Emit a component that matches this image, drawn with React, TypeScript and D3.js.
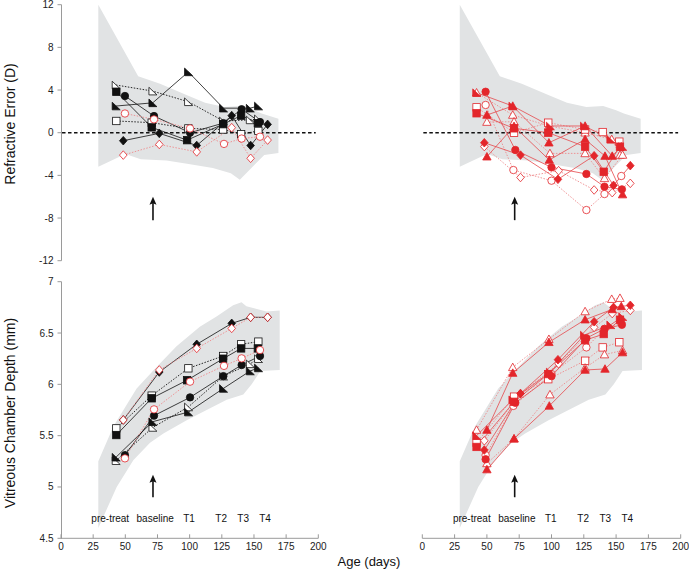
import React from "react";
import * as d3 from "d3";

const W = 689;
const H = 569;

// ---------- ticks & labels ----------
const ageTicks = [0, 25, 50, 75, 100, 125, 150, 175, 200];
const refTicks = [12, 8, 4, 0, -4, -8, -12];
const vcdTicks = [4.5, 5, 5.5, 6, 6.5, 7];
const phaseLabels = ["pre-treat", "baseline", "T1", "T2", "T3", "T4"];
const phaseAges = [38.3, 73.2, 99.5, 124.5, 141.6, 158.6];
const arrowAge = 71.5;
const arrowRef = [-8.2, -6.0];
const arrowVcd = [4.9, 5.12];

// ---------- normal range bands ----------
const refBandUpperAge = [29, 60, 77, 98, 112, 127, 140, 150, 156, 169];
const refBandUpper = [12, 5.3, 4.6, 3.5, 2.8, 2.4, 2.5, 2.1, 1.8, 1.3];
const refBandLowerAge = [29, 50, 62, 82, 98, 118, 132, 139, 148, 158, 169];
const refBandLower = [-3.2, -2.0, -2.5, -2.6, -2.9, -3.3, -3.8, -4.4, -3.3, -2.1, -1.9];

const vcdBandUpperAge = [29, 40.7, 58.8, 74.3, 89.8, 107.9, 120.9, 133.8, 140.3, 144.1, 159.7, 170];
const vcdBandUpper = [5.25, 5.59, 5.96, 6.17, 6.37, 6.56, 6.66, 6.77, 6.8, 6.76, 6.71, 6.72];
const vcdBandLowerAge = [29, 43.3, 56.2, 69.2, 79.6, 97.7, 113.2, 128.8, 141.7, 148.2, 155, 170];
const vcdBandLower = [4.6, 5.0, 5.26, 5.43, 5.52, 5.65, 5.75, 5.85, 5.9, 6.0, 6.13, 6.14];

// ---------- left panels (black / red-open) ----------
const lSqFAge = [43, 70.5, 98, 126, 140, 153];
const lSqFRef = [3.84, 0.5, -0.7, 0.8, 1.6, 0.9];
const lSqFVcd = [5.506, 5.864, 6.04, 6.25, 6.35, 6.35];

const lSqOAge = [43, 70.5, 99, 126, 140, 153.4];
const lSqORef = [1.1, 0.94, 0.4, 0.3, -0.14, 0.17];
const lSqOVcd = [5.571, 5.89, 6.156, 6.276, 6.39, 6.416];

const lCiFAge = [49.7, 72.3, 100.3, 126.2, 140.4, 154.7];
const lCiFRef = [3.44, 1.56, 0.0, 0.9, 2.2, 1.0];
const lCiFVcd = [5.31, 5.695, 5.873, 6.08, 6.188, 6.276];

const lCiOAge = [49.7, 72.3, 100.3, 126.7, 140.4, 154.7];
const lCiORef = [1.8, 1.25, 0.4, -1.05, -0.55, -0.375];
const lCiOVcd = [5.279, 5.756, 6.026, 6.18, 6.253, 6.334];

const lDiFAge = [48.4, 76.4, 105.5, 132.7, 147.4, 160.6];
const lDiFRef = [-0.75, -0.06, -1.2, 1.6, -1.2, 0.78];
const lDiFVcd = [5.653, 6.12, 6.39, 6.594, 6.653, 6.653];

const lDiOAge = [48.4, 76.4, 105.5, 132.7, 147.4, 160.6];
const lDiORef = [-2.1, -1.1, -1.8, 0.47, -2.4, -0.69];
const lDiOVcd = [5.653, 6.14, 6.35, 6.545, 6.653, 6.653];

const lTrFAge = [42.75, 71.3, 99, 126.2, 147, 153.4];
const lTrFRef = [2.5, 2.8, 5.7, 2.3, 2.3, 2.5];
const lTrFVcd = [5.29, 5.636, 5.73, 5.96, 6.13, 6.16];

const lTrOAge = [42.75, 71.3, 99, 126.2, 147, 153.4];
const lTrORef = [4.47, 3.9, 2.9, 1.1, 1.2, 1.3];
const lTrOVcd = [5.256, 5.58, 5.78, 6.08, 6.2, 6.25];

// ---------- right panels (red) ----------
const rTuOAge = [42, 70, 98, 126, 146.6, 153];
const rTuORef = [3.75, 1.66, 0.63, 0.0, -0.62, -2.09];
const rTuOVcd = [5.555, 6.166, 6.44, 6.71, 6.83, 6.84];

const rTuFAge = [50, 70, 98, 126, 147, 154];
const rTuFRef = [1.66, 2.5, -0.94, 0.63, -2.19, -1.31];
const rTuFVcd = [5.555, 6.11, 6.41, 6.63, 6.73, 6.76];

const rDiFAge = [48, 76, 105, 133, 148, 161];
const rDiFRef = [-0.94, -2.1, -4.37, -2.16, -4.94, -3.09];
const rDiFVcd = [5.36, 5.91, 6.24, 6.61, 6.75, 6.77];

const rDiOAge = [48, 76, 105.5, 133, 147, 161];
const rDiORef = [-1.3, -4.2, -3.56, -5.37, -5.62, -4.75];
const rDiOVcd = [5.45, 5.91, 6.2, 6.555, 6.69, 6.72];

const rCiFAge = [49, 72, 100, 127, 141, 154.5];
const rCiFRef = [3.84, -1.62, -3.25, -3.87, -5.06, -5.31];
const rCiFVcd = [5.27, 5.82, 6.08, 6.45, 6.54, 6.58];

const rCiOAge = [49, 70.5, 100, 127, 141, 154];
const rCiORef = [2.6, -3.5, -4.5, -7.25, -5.75, -4.06];
const rCiOVcd = [5.31, 5.79, 6.1, 6.36, 6.54, 6.6];

const rSqFAge = [42, 71, 97.5, 126, 140.4, 153];
const rSqFRef = [1.82, 0.41, 0.0, -1.31, -3.66, -1.31];
const rSqFVcd = [5.39, 5.83, 6.1, 6.43, 6.49, 6.63];

const rSqOAge = [42, 71, 97.5, 126, 139.6, 152.5];
const rSqORef = [2.38, 0.0, 0.94, 0.3, 0.06, -0.84];
const rSqOVcd = [5.43, 5.88, 6.05, 6.23, 6.36, 6.41];

const rRtFAge = [42, 70, 99, 125.4, 145.8, 155];
const rRtFRef = [3.75, 2.5, 0.63, 0.63, -0.62, -1.3];
const rRtFVcd = [5.5, 5.85, 6.12, 6.48, 6.58, 6.66];

const rTlOAge = [50, 71, 98.8, 126, 141, 155];
const rTlORef = [1.0, 1.03, -1.94, -1.94, -4.28, -2.09];
const rTlOVcd = [5.23, 5.47, 5.9, 6.16, 6.29, 6.33];

const rTlFAge = [50, 71, 98.3, 126, 141.4, 155];
const rTlFRef = [-2.25, 0.6, -2.56, -0.62, -2.19, -5.8];
const rTlFVcd = [5.17, 5.47, 5.79, 6.14, 6.15, 6.31];

// ---------- styling ----------
const BLACK = "#111";
const RED = "#e3262b";
const RED_LINE = "#e6474b";
const RED_DOT = "#ee8a8c";
const BAND = "#e1e3e4";
const AXIS = "#9a9a9a";
const FONT = "'Liberation Sans', Arial, Helvetica, sans-serif";

type Series = {
  age: number[];
  ref: number[];
  vcd: number[];
  shape: "square" | "circle" | "diamond" | "rtri" | "tri";
  filled: boolean;
  color: string;
  line: string;
  dashed: boolean;
};

const leftSeries: Series[] = [
  { age: lSqOAge, ref: lSqORef, vcd: lSqOVcd, shape: "square", filled: false, color: BLACK, line: BLACK, dashed: true },
  { age: lTrOAge, ref: lTrORef, vcd: lTrOVcd, shape: "rtri", filled: false, color: BLACK, line: BLACK, dashed: true },
  { age: lSqFAge, ref: lSqFRef, vcd: lSqFVcd, shape: "square", filled: true, color: BLACK, line: BLACK, dashed: false },
  { age: lCiFAge, ref: lCiFRef, vcd: lCiFVcd, shape: "circle", filled: true, color: BLACK, line: BLACK, dashed: false },
  { age: lDiFAge, ref: lDiFRef, vcd: lDiFVcd, shape: "diamond", filled: true, color: BLACK, line: BLACK, dashed: false },
  { age: lTrFAge, ref: lTrFRef, vcd: lTrFVcd, shape: "rtri", filled: true, color: BLACK, line: BLACK, dashed: false },
  { age: lDiOAge, ref: lDiORef, vcd: lDiOVcd, shape: "diamond", filled: false, color: RED, line: RED_DOT, dashed: true },
  { age: lCiOAge, ref: lCiORef, vcd: lCiOVcd, shape: "circle", filled: false, color: RED, line: RED_DOT, dashed: true },
];

const rightSeries: Series[] = [
  { age: rTuOAge, ref: rTuORef, vcd: rTuOVcd, shape: "tri", filled: false, color: RED, line: RED_DOT, dashed: true },
  { age: rDiOAge, ref: rDiORef, vcd: rDiOVcd, shape: "diamond", filled: false, color: RED, line: RED_DOT, dashed: true },
  { age: rCiOAge, ref: rCiORef, vcd: rCiOVcd, shape: "circle", filled: false, color: RED, line: RED_DOT, dashed: true },
  { age: rSqOAge, ref: rSqORef, vcd: rSqOVcd, shape: "square", filled: false, color: RED, line: RED_DOT, dashed: true },
  { age: rTlOAge, ref: rTlORef, vcd: rTlOVcd, shape: "tri", filled: false, color: RED, line: RED_DOT, dashed: true },
  { age: rTuFAge, ref: rTuFRef, vcd: rTuFVcd, shape: "tri", filled: true, color: RED, line: RED_LINE, dashed: false },
  { age: rDiFAge, ref: rDiFRef, vcd: rDiFVcd, shape: "diamond", filled: true, color: RED, line: RED_LINE, dashed: false },
  { age: rCiFAge, ref: rCiFRef, vcd: rCiFVcd, shape: "circle", filled: true, color: RED, line: RED_LINE, dashed: false },
  { age: rSqFAge, ref: rSqFRef, vcd: rSqFVcd, shape: "square", filled: true, color: RED, line: RED_LINE, dashed: false },
  { age: rRtFAge, ref: rRtFRef, vcd: rRtFVcd, shape: "rtri", filled: true, color: RED, line: RED_LINE, dashed: false },
  { age: rTlFAge, ref: rTlFRef, vcd: rTlFVcd, shape: "tri", filled: true, color: RED, line: RED_LINE, dashed: false },
];

// ---------- scales ----------
const leftX = d3.scaleLinear().domain([0, 200]).range([61, 318.3]);
const rightX = d3.scaleLinear().domain([0, 200]).range([422.3, 680.7]);
const refY = d3.scaleLinear().domain([-12, 12]).range([260.7, 4.7]);
const vcdY = d3.scaleLinear().domain([4.5, 7]).range([538.3, 281.7]);

function bandPath(
  x: d3.ScaleLinear<number, number>,
  y: d3.ScaleLinear<number, number>,
  ua: number[], uv: number[], la: number[], lv: number[]
) {
  const pts: [number, number][] = [];
  ua.forEach((a, i) => pts.push([x(a), y(uv[i])]));
  for (let i = la.length - 1; i >= 0; i--) pts.push([x(la[i]), y(lv[i])]);
  return (d3.line()(pts) || "") + "Z";
}

function Marker({ shape, cx, cy, filled, color }: { shape: string; cx: number; cy: number; filled: boolean; color: string }) {
  const fill = filled ? color : "#fff";
  const sw = 0.8;
  if (shape === "square") return <rect x={cx - 3.7} y={cy - 3.7} width={7.4} height={7.4} fill={fill} stroke={color} strokeWidth={sw} />;
  if (shape === "circle") return <circle cx={cx} cy={cy} r={3.7} fill={fill} stroke={color} strokeWidth={sw} />;
  if (shape === "diamond")
    return <path d={`M${cx},${cy - 4.3}L${cx + 3.8},${cy}L${cx},${cy + 4.3}L${cx - 3.8},${cy}Z`} fill={fill} stroke={color} strokeWidth={sw} />;
  if (shape === "rtri")
    return <path d={`M${cx - 3.8},${cy - 3.8}L${cx - 3.8},${cy + 3.8}L${cx + 4.2},${cy + 3.8}Z`} fill={fill} stroke={color} strokeWidth={sw} />;
  return <path d={`M${cx},${cy - 4.2}L${cx + 4.2},${cy + 3.3}L${cx - 4.2},${cy + 3.3}Z`} fill={fill} stroke={color} strokeWidth={sw} />;
}

function SeriesGroup({ series, x, y, key2 }: { series: Series[]; x: d3.ScaleLinear<number, number>; y: d3.ScaleLinear<number, number>; key2: "ref" | "vcd" }) {
  const lineGen = d3.line<[number, number]>().x((d) => x(d[0])).y((d) => y(d[1]));
  return (
    <g>
      {series.map((s, i) => (
        <path
          key={"l" + i}
          d={lineGen(s.age.map((a, j) => [a, s[key2][j]] as [number, number])) || ""}
          fill="none"
          stroke={s.line}
          strokeWidth={s.dashed ? 0.9 : 0.8}
          strokeDasharray={s.dashed ? "1.5,1.5" : undefined}
        />
      ))}
      {series.map((s, i) => (
        <g key={"m" + i}>
          {s.age.map((a, j) => (
            <Marker key={j} shape={s.shape} cx={x(a)} cy={y(s[key2][j])} filled={s.filled} color={s.color} />
          ))}
        </g>
      ))}
    </g>
  );
}

function Arrow({ x, y1, y2 }: { x: number; y1: number; y2: number }) {
  return (
    <g>
      <line x1={x} x2={x} y1={y1} y2={y2 + 6} stroke={BLACK} strokeWidth={1.6} />
      <path d={`M${x},${y2}L${x + 3.5},${y2 + 8}L${x},${y2 + 6.5}L${x - 3.5},${y2 + 8}Z`} fill={BLACK} />
    </g>
  );
}

function YAxis({ y, ticks, x0 }: { y: d3.ScaleLinear<number, number>; ticks: number[]; x0: number }) {
  const [d0, d1] = y.domain();
  return (
    <g>
      <line x1={x0} x2={x0} y1={y(d0)} y2={y(d1)} stroke={AXIS} strokeWidth={1} />
      {ticks.map((t) => (
        <g key={t}>
          <line x1={x0 - 4} x2={x0} y1={y(t)} y2={y(t)} stroke={AXIS} strokeWidth={1} />
          <text x={x0 - 8} y={y(t)} dy="0.35em" textAnchor="end" fontSize={10} fill="#222" fontFamily={FONT}>
            {String(t)}
          </text>
        </g>
      ))}
    </g>
  );
}

function XAxis({ x, y0 }: { x: d3.ScaleLinear<number, number>; y0: number }) {
  return (
    <g>
      <line x1={x(0)} x2={x(200)} y1={y0} y2={y0} stroke={AXIS} strokeWidth={1} />
      {ageTicks.map((t) => (
        <g key={t}>
          <line x1={x(t)} x2={x(t)} y1={y0 - 4} y2={y0} stroke={AXIS} strokeWidth={1} />
          <text x={x(t)} y={y0 + 12} textAnchor="middle" fontSize={10} fill="#222" fontFamily={FONT}>
            {String(t)}
          </text>
        </g>
      ))}
    </g>
  );
}

function Panel({ x, series, top }: { x: d3.ScaleLinear<number, number>; series: Series[]; top: boolean }) {
  const y = top ? refY : vcdY;
  const band = top
    ? bandPath(x, y, refBandUpperAge, refBandUpper, refBandLowerAge, refBandLower)
    : bandPath(x, y, vcdBandUpperAge, vcdBandUpper, vcdBandLowerAge, vcdBandLower);
  return (
    <g>
      <path d={band} fill={BAND} />
      {top && (
        <line x1={x(0.8)} x2={x(198)} y1={y(0)} y2={y(0)} stroke={BLACK} strokeWidth={1.6} strokeDasharray="3.5,2.5" />
      )}
      <SeriesGroup series={series} x={x} y={y} key2={top ? "ref" : "vcd"} />
      {top ? (
        <Arrow x={x(arrowAge)} y1={refY(arrowRef[0])} y2={refY(arrowRef[1])} />
      ) : (
        <Arrow x={x(arrowAge)} y1={vcdY(arrowVcd[0])} y2={vcdY(arrowVcd[1])} />
      )}
      {!top &&
        phaseLabels.map((p, i) => (
          <text key={p} x={x(phaseAges[i])} y={522} textAnchor="middle" fontSize={10} fill="#111" fontFamily={FONT}>
            {p}
          </text>
        ))}
    </g>
  );
}

export default function App() {
  return (
    <svg
      width={W}
      height={H}
      viewBox={`0 0 ${W} ${H}`}
      style={{ position: "absolute", left: 0, top: 0, background: "#fff" }}
    >
      <rect x={0} y={0} width={W} height={H} fill="#fff" />
      <Panel x={leftX} series={leftSeries} top={true} />
      <Panel x={rightX} series={rightSeries} top={true} />
      <Panel x={leftX} series={leftSeries} top={false} />
      <Panel x={rightX} series={rightSeries} top={false} />
      <YAxis y={refY} ticks={refTicks} x0={61.5} />
      <YAxis y={vcdY} ticks={vcdTicks} x0={61.5} />
      <XAxis x={leftX} y0={538.3} />
      <XAxis x={rightX} y0={538.3} />
      <text transform="translate(15,124) rotate(-90)" textAnchor="middle" fontSize={14} fill="#111" fontFamily={FONT}>
        Refractive Error (D)
      </text>
      <text transform="translate(15,413) rotate(-90)" textAnchor="middle" fontSize={14} fill="#111" fontFamily={FONT}>
        Vitreous Chamber Depth (mm)
      </text>
      <text x={369} y={566} textAnchor="middle" fontSize={13} fill="#111" fontFamily={FONT}>
        Age (days)
      </text>
    </svg>
  );
}
